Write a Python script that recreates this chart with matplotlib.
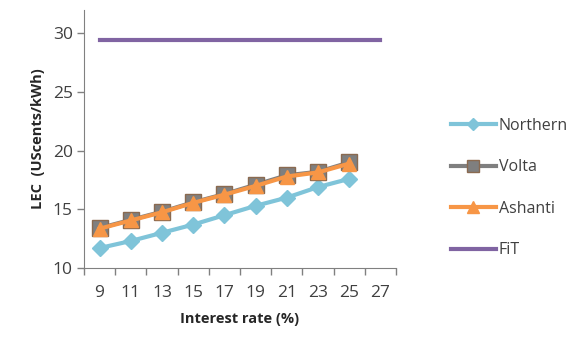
import matplotlib
matplotlib.use('Agg')
import matplotlib.pyplot as plt
import numpy as np

# interest rate categories (%)
rates = ['9', '11', '13', '15', '17', '19', '21', '23', '25', '27']
northern = [11.7, 12.3, 13.0, 13.7, 14.5, 15.3, 16.0, 16.9, 17.6]
volta = [13.4, 14.1, 14.8, 15.6, 16.3, 17.1, 17.9, 18.2, 19.0]
ashanti = [13.35, 14.05, 14.75, 15.55, 16.25, 17.0, 17.8, 18.15, 18.9]
fit = [29.4] * len(rates)

plt.rcParams['font.family'] = ['Open Sans', 'DejaVu Sans']

fig = plt.figure(figsize=(5.79, 3.44), dpi=100)
ax = fig.add_axes([0.145, 0.221, 0.539, 0.75])

x = np.arange(len(rates))
n = len(northern)
ax.plot(x[:n], northern, color='#7fc4d9', lw=3, marker='D', ms=8, label='Northern')
ax.plot(x[:n], volta, color='#7f7f7f', lw=3, marker='s', ms=11,
        markeredgecolor='#8a6a50', label='Volta')
ax.plot(x[:n], ashanti, color='#f79646', lw=3, marker='^', ms=10, label='Ashanti')
ax.plot(x, fit, color='#8064a2', lw=3, label='FiT')

ax.set_xlim(-0.5, len(rates) - 0.5)
ax.set_ylim(10, 32)
ax.set_yticks([10, 15, 20, 25, 30])
ax.set_xticks(np.arange(-0.5, len(rates), 1.0))
ax.set_xticklabels([])
ax.set_xticks(x, minor=True)
ax.set_xticklabels(rates, minor=True)
ax.tick_params(axis='x', which='minor', length=0, pad=12)
ax.tick_params(axis='both', which='major', labelsize=12.5, colors='#404040', length=5, width=1)
ax.tick_params(axis='x', which='minor', labelsize=12.5, labelcolor='#404040')
ax.tick_params(axis='y', labelcolor='#404040', pad=3)
ax.tick_params(axis='x', which='major', color='#808080')
ax.tick_params(axis='y', which='major', color='#808080')

for s in ['top', 'right']:
    ax.spines[s].set_visible(False)
for s in ['left', 'bottom']:
    ax.spines[s].set_color('#808080')

ax.set_ylabel('LEC  (UScents/kWh)', fontsize=10.5, fontweight='bold', color='#262626', labelpad=6)
ax.set_xlabel('Interest rate (%)', fontsize=10.5, fontweight='bold', color='#262626', labelpad=8)

leg = ax.legend(loc='center left', bbox_to_anchor=(1.13, 0.31), frameon=False,
                fontsize=11.5, handlelength=2.8, labelspacing=1.6, handletextpad=0.2,
                markerscale=0.8)
for t in leg.get_texts():
    t.set_color('#404040')

fig.savefig('out.png', dpi=100)
